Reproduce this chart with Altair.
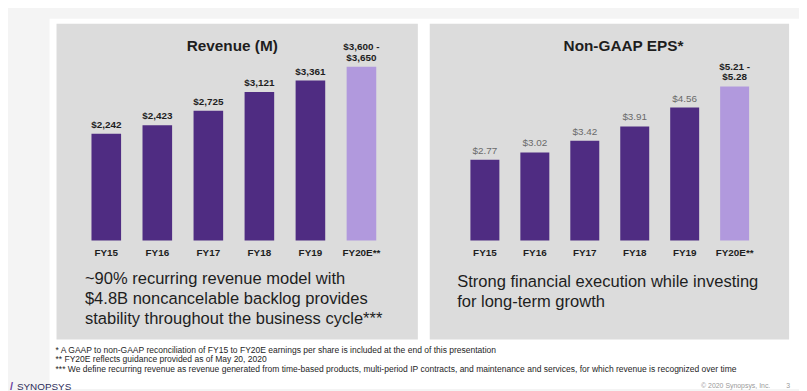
import altair as alt
import pandas as pd

# ---- data ----
categories = ["FY15", "FY16", "FY17", "FY18", "FY19", "FY20E**"]
revenue = [2242, 2423, 2725, 3121, 3361, 3650]
revenue_labels = ["$2,242", "$2,423", "$2,725", "$3,121", "$3,361", "$3,600 -\n$3,650"]
eps = [2.77, 3.02, 3.42, 3.91, 4.56, 5.28]
eps_labels = ["$2.77", "$3.02", "$3.42", "$3.91", "$4.56", "$5.21 -\n$5.28"]
estimate_cat = "FY20E**"

title_left = "Revenue (M)"
title_right = "Non-GAAP EPS*"
caption_left = "~90% recurring revenue model with\n$4.8B noncancelable backlog provides\nstability throughout the business cycle***"
caption_right = "Strong financial execution while investing\nfor long-term growth"
footnotes = ("* A GAAP to non-GAAP reconciliation of FY15 to FY20E earnings per share is included at the end of this presentation\n"
             "** FY20E reflects guidance provided as of May 20, 2020\n"
             "*** We define recurring revenue as revenue generated from time-based products, multi-period IP contracts, and maintenance and services, for which revenue is recognized over time")

DARK = "#4f2c82"
LIGHT = "#b199dd"
FONT = "Liberation Sans"
TXT = "#1e1e1e"

df_rev = pd.DataFrame({"cat": categories, "value": revenue, "label": revenue_labels})
df_eps = pd.DataFrame({"cat": categories, "value": eps, "label": eps_labels})
one = pd.DataFrame({"a": [0]})

# ---- background shapes ----
def box(x, x2, y, y2, color):
    return alt.Chart(one).mark_rect(color=color).encode(
        x=alt.value(x), x2=alt.value(x2), y=alt.value(y), y2=alt.value(y2))

frame = box(42, 799, 9, 383, "#ffffff")
panel_l = box(49, 414, 14, 333, "#dcdcdc")
panel_r = box(426, 789, 14, 333, "#dcdcdc")

def text_at(txt, x, y, size, weight="normal", align="center", color=TXT, lh=None, base="middle"):
    kw = dict(text=txt, align=align, baseline=base, fontSize=size, fontWeight=weight,
              font=FONT, color=color, lineBreak="\n")
    if lh:
        kw["lineHeight"] = lh
    return alt.Chart(one).mark_text(**kw).encode(x=alt.value(x), y=alt.value(y))

# ---- left panel (revenue) ----
xl = alt.X("cat:N", sort=categories, axis=None,
           scale=alt.Scale(domain=categories, range=[73.5, 382.8], paddingInner=0.42, paddingOuter=0.21))
yl = alt.Y("value:Q", axis=None,
           scale=alt.Scale(domain=[0, 3650], range=[233, 57.5], nice=False, zero=True))

base_l = alt.Chart(df_rev)
bars_l = base_l.mark_bar().encode(
    x=xl, y=yl,
    color=alt.condition(alt.datum.cat == estimate_cat, alt.value(LIGHT), alt.value(DARK)))
lab_l = base_l.transform_filter(alt.datum.cat != estimate_cat).mark_text(
    baseline="alphabetic", dy=-6, fontSize=10, fontWeight="bold", font=FONT, color=TXT).encode(
    x=xl, y=yl, text="label:N")
lab_l2 = base_l.transform_filter(alt.datum.cat == estimate_cat).mark_text(
    baseline="alphabetic", dy=-16.7, fontSize=10, fontWeight="bold", font=FONT, color=TXT,
    lineBreak="\n", lineHeight=10.7).encode(
    x=xl, y=yl, text="label:N")
cat_l = base_l.mark_text(baseline="middle", fontSize=10, fontWeight="bold", font=FONT, color=TXT).encode(
    x=xl, y=alt.value(245.3), text="cat:N")
left = alt.layer(bars_l, lab_l, lab_l2, cat_l)

# ---- right panel (EPS) ----
xr = alt.X("cat:N", sort=categories, axis=None,
           scale=alt.Scale(domain=categories, range=[456.5, 759.2], paddingInner=0.42, paddingOuter=0.21))
yr = alt.Y("value:Q", axis=None,
           scale=alt.Scale(domain=[0, 5.28], range=[233, 77.3], nice=False, zero=True))

base_r = alt.Chart(df_eps)
bars_r = base_r.mark_bar().encode(
    x=xr, y=yr,
    color=alt.condition(alt.datum.cat == estimate_cat, alt.value(LIGHT), alt.value(DARK)))
lab_r = base_r.transform_filter(alt.datum.cat != estimate_cat).mark_text(
    baseline="alphabetic", dy=-6, fontSize=10, font=FONT, color="#6a6a6a").encode(
    x=xr, y=yr, text="label:N")
lab_r2 = base_r.transform_filter(alt.datum.cat == estimate_cat).mark_text(
    baseline="alphabetic", dy=-16.7, fontSize=10, fontWeight="bold", font=FONT, color=TXT,
    lineBreak="\n", lineHeight=10.7).encode(
    x=xr, y=yr, text="label:N")
cat_r = base_r.mark_text(baseline="middle", fontSize=10, fontWeight="bold", font=FONT, color=TXT).encode(
    x=xr, y=alt.value(245.3), text="cat:N")
right = alt.layer(bars_r, lab_r, lab_r2, cat_r)

# ---- texts ----
t_l = text_at(title_left, 226.5, 36, 15.5, weight="bold")
t_r = text_at(title_right, 621.7, 36, 15.5, weight="bold")
c_l = text_at(caption_left, 77.7, 272, 16.7, align="left", lh=20.3)
c_r = text_at(caption_right, 453.7, 275.3, 16.7, align="left", lh=19.5)
foot = text_at(footnotes, 48, 343.5, 8.6, align="left", lh=9.5)
logo_slash = text_at("/", 2, 381, 11, weight="bold", align="left", color="#6b3fa0")
logo = text_at("SYNOPSYS", 9, 381, 10, align="left", color="#2d2d5a")
copy = text_at("\u00a9 2020 Synopsys, Inc.", 770, 380, 7, align="right", color="#9a9a9a")
page = text_at("3", 790, 380, 7, align="right", color="#9a9a9a")

chart = alt.layer(
    frame, panel_l, panel_r, left, right, t_l, t_r, c_l, c_r, foot, logo_slash, logo, copy, page
).resolve_scale(x="independent", y="independent").properties(
    width=799, height=383, padding=0,
    autosize=alt.AutoSizeParams(type="none"),
    background="#f4f4f4",
).configure_view(strokeWidth=0)

chart.save("out.html", embed_options={"renderer": "svg", "actions": False})
